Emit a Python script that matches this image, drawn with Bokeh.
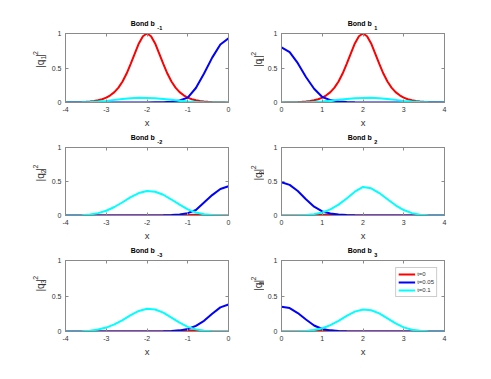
import math
from bokeh.plotting import figure
from bokeh.layouts import column, row
from bokeh.models import Range1d, FixedTicker, LinearAxis
from bokeh.core.properties import value
from bokeh.embed import file_html
from bokeh.resources import INLINE

# ---------------- data ----------------
X_NEG = [-4.0, -3.8, -3.6, -3.4, -3.2, -3.0, -2.8, -2.6, -2.4, -2.2, -2.0,
         -1.8, -1.6, -1.4, -1.2, -1.0, -0.8, -0.6, -0.4, -0.2, 0.0]
X_POS = [0.0, 0.2, 0.4, 0.6, 0.8, 1.0, 1.2, 1.4, 1.6, 1.8, 2.0,
         2.2, 2.4, 2.6, 2.8, 3.0, 3.2, 3.4, 3.6, 3.8, 4.0]
# finer grid for the sharp red peaks of the top row
XF_NEG = [-4.0, -3.9, -3.8, -3.7, -3.6, -3.5, -3.4, -3.3, -3.2, -3.1, -3.0,
          -2.9, -2.8, -2.7, -2.6, -2.5, -2.4, -2.3, -2.2, -2.1, -2.0,
          -1.9, -1.8, -1.7, -1.6, -1.5, -1.4, -1.3, -1.2, -1.1, -1.0,
          -0.9, -0.8, -0.7, -0.6, -0.5, -0.4, -0.3, -0.2, -0.1, 0.0]
XF_POS = [0.0, 0.1, 0.2, 0.3, 0.4, 0.5, 0.6, 0.7, 0.8, 0.9, 1.0,
          1.1, 1.2, 1.3, 1.4, 1.5, 1.6, 1.7, 1.8, 1.9, 2.0,
          2.1, 2.2, 2.3, 2.4, 2.5, 2.6, 2.7, 2.8, 2.9, 3.0,
          3.1, 3.2, 3.3, 3.4, 3.5, 3.6, 3.7, 3.8, 3.9, 4.0]

SERIES_LABELS = ["t=0", "t=0.05", "t=0.1"]
COLORS = ["#ff0000", "#0000ff", "#00ffff"]

# bond b_-1
red_m1 = [0.001, 0.002, 0.003, 0.0045, 0.0066, 0.01, 0.015, 0.022, 0.033, 0.048, 0.07,
          0.104, 0.15, 0.216, 0.305, 0.42, 0.56, 0.71, 0.856, 0.96, 1.00,
          0.96, 0.856, 0.71, 0.56, 0.42, 0.305, 0.216, 0.15, 0.104, 0.07,
          0.048, 0.033, 0.022, 0.015, 0.01, 0.0066, 0.0045, 0.003, 0.002, 0.001]
blue_m1 = [0, 0, 0, 0, 0, 0, 0, 0, 0, 0, 0,
           0.002, 0.004, 0.01, 0.03, 0.07, 0.21, 0.42, 0.65, 0.84, 0.93]
cyan_m1 = [0, 0.001, 0.003, 0.007, 0.014, 0.022, 0.038, 0.052, 0.062, 0.068, 0.067,
           0.062, 0.052, 0.04, 0.027, 0.014, 0.007, 0.003, 0.001, 0.0, 0]
# bond b_1
red_p1 = [0.001, 0.002, 0.003, 0.0045, 0.0066, 0.01, 0.015, 0.022, 0.033, 0.048, 0.07,
          0.104, 0.15, 0.216, 0.305, 0.42, 0.56, 0.71, 0.856, 0.96, 1.00,
          0.96, 0.856, 0.71, 0.56, 0.42, 0.305, 0.216, 0.15, 0.104, 0.07,
          0.048, 0.033, 0.022, 0.015, 0.01, 0.0066, 0.0045, 0.003, 0.002, 0.001]
blue_p1 = [0.80, 0.73, 0.57, 0.37, 0.20, 0.08, 0.035, 0.015, 0.007, 0.003, 0.001,
           0, 0, 0, 0, 0, 0, 0, 0, 0, 0]
cyan_p1 = [0, 0.0, 0.001, 0.003, 0.007, 0.014, 0.027, 0.04, 0.052, 0.062, 0.067,
           0.068, 0.062, 0.052, 0.038, 0.022, 0.014, 0.007, 0.003, 0.001, 0]
# bond b_-2
red_m2 = [0, 0, 0, 0, 0, 0, 0, 0, 0, 0, 0,
          0, 0, 0.001, 0.003, 0.007, 0.01, 0.008, 0.004, 0.001, 0]
blue_m2 = [0, 0, 0, 0, 0, 0, 0, 0, 0, 0, 0,
           0.001, 0.003, 0.007, 0.015, 0.035, 0.08, 0.19, 0.30, 0.39, 0.43]
cyan_m2 = [0, 0.001, 0.004, 0.014, 0.035, 0.07, 0.125, 0.195, 0.27, 0.33, 0.36,
           0.35, 0.305, 0.235, 0.16, 0.09, 0.045, 0.018, 0.006, 0.002, 0]
# bond b_2
red_p2 = [0, 0, 0, 0.002, 0.006, 0.01, 0.008, 0.004, 0.001, 0, 0,
          0, 0, 0, 0, 0, 0, 0, 0, 0, 0]
blue_p2 = [0.49, 0.45, 0.36, 0.24, 0.13, 0.06, 0.03, 0.014, 0.007, 0.003, 0.001,
           0, 0, 0, 0, 0, 0, 0, 0, 0, 0]
cyan_p2 = [0, 0.001, 0.003, 0.008, 0.02, 0.045, 0.09, 0.16, 0.25, 0.35, 0.42,
           0.40, 0.33, 0.24, 0.15, 0.08, 0.035, 0.012, 0.004, 0.001, 0]
# bond b_-3
red_m3 = [0, 0, 0, 0, 0, 0, 0, 0, 0, 0, 0,
          0, 0, 0.002, 0.006, 0.015, 0.013, 0.006, 0.002, 0, 0]
blue_m3 = [0, 0, 0, 0, 0, 0, 0, 0, 0, 0, 0,
           0.001, 0.003, 0.007, 0.016, 0.035, 0.08, 0.15, 0.25, 0.34, 0.38]
cyan_m3 = [0, 0.001, 0.003, 0.01, 0.028, 0.055, 0.10, 0.16, 0.23, 0.29, 0.32,
           0.31, 0.265, 0.195, 0.125, 0.065, 0.03, 0.011, 0.004, 0.001, 0]
# bond b_3
red_p3 = [0, 0, 0, 0.003, 0.01, 0.015, 0.009, 0.003, 0.001, 0, 0,
          0, 0, 0, 0, 0, 0, 0, 0, 0, 0]
blue_p3 = [0.35, 0.33, 0.26, 0.17, 0.085, 0.035, 0.016, 0.007, 0.003, 0.001, 0,
           0, 0, 0, 0, 0, 0, 0, 0, 0, 0]
cyan_p3 = [0, 0.001, 0.003, 0.008, 0.02, 0.045, 0.09, 0.15, 0.22, 0.28, 0.31,
           0.30, 0.255, 0.185, 0.115, 0.058, 0.025, 0.009, 0.003, 0.001, 0]

# bond indices -> titles "Bond b_{k}" and y labels "|q_{k}|^2"
BOND_IDX = [["-1", "1"], ["-2", "2"], ["-3", "3"]]
XTICKS_NEG = [-4, -3, -2, -1, 0]
XTICKS_POS = [0, 1, 2, 3, 4]
YTICKS = [0, 0.5, 1]

DATA = [[(red_m1, blue_m1, cyan_m1), (red_p1, blue_p1, cyan_p1)],
        [(red_m2, blue_m2, cyan_m2), (red_p2, blue_p2, cyan_p2)],
        [(red_m3, blue_m3, cyan_m3), (red_p3, blue_p3, cyan_p3)]]

FONT = "Liberation Sans"
AX = "#8a8a8a"
TXT = "#333333"

# ---------------- layout geometry (pixels) ----------------
FRAME_W = 164
FRAME_H = [71, 70, 71]
TITLE_H = [30, 14, 14]
PLOT_TOP = 3
PLOT_BOT = [26, 26, 40]
YLAB_W = [48, 30]
PLOT_LB = 16
PLOT_RB = [6, 25]


def style_axis(ax, ticks, show_labels=True):
    ax.ticker = FixedTicker(ticks=ticks)
    ax.major_label_overrides = {t: ("%g" % t) for t in ticks}
    ax.axis_line_color = AX
    ax.major_tick_line_color = AX
    ax.major_tick_in = 3
    ax.major_tick_out = 0
    ax.minor_tick_line_color = None
    ax.major_label_text_font = FONT
    ax.major_label_text_color = TXT
    if show_labels:
        ax.major_label_text_font_size = "7px"
        ax.major_label_standoff = 4
    else:
        ax.major_label_text_font_size = "0px"
        ax.major_label_standoff = 0
        ax.major_label_text_alpha = 0
    ax.axis_label_text_font = FONT
    ax.axis_label_text_font_size = "9.5px"
    ax.axis_label_text_font_style = "normal"
    ax.axis_label_text_color = TXT


def text_width(s, size, bold=False):
    w = {"B": 0.722, "o": 0.611 if bold else 0.556, "n": 0.611 if bold else 0.556,
         "d": 0.611 if bold else 0.556, " ": 0.278, "b": 0.611 if bold else 0.556,
         "-": 0.333, "|": 0.28 if bold else 0.26, "q": 0.611 if bold else 0.556}
    return sum(w.get(ch, 0.556) for ch in s) * size


def text_fig(w, h):
    f = figure(width=w, height=h, output_backend="svg", toolbar_location=None,
               x_range=Range1d(0, w), y_range=Range1d(0, h),
               x_axis_type=None, y_axis_type=None, min_border=0)
    f.outline_line_color = None
    f.grid.visible = False
    f.background_fill_color = "white"
    f.border_fill_color = "white"
    return f


layout_rows = []
for r in range(3):
    title_figs = []
    plot_cells = []
    for c in range(2):
        left = (c == 0)
        k = BOND_IDX[r][c]
        x = X_NEG if left else X_POS
        xf = XF_NEG if left else XF_POS
        xt = XTICKS_NEG if left else XTICKS_POS
        lb, rb = PLOT_LB, PLOT_RB[c]
        pw = lb + FRAME_W + rb
        ph = PLOT_TOP + FRAME_H[r] + PLOT_BOT[r]
        cell_w = YLAB_W[c] + pw

        # ---- title "Bond b_k" ----
        tf = text_fig(cell_w, TITLE_H[r])
        xc = YLAB_W[c] + lb + FRAME_W / 2.0
        tmain, tsub, gap = 7, 5.5, 2.5
        wm = text_width("Bond b", tmain, True)
        ws = text_width(k, tsub, True)
        tot = wm + gap + ws
        tf.text(x=[xc - tot / 2.0], y=[7.0], text=["Bond b"],
                text_font=value(FONT), text_font_size=value("%gpx" % tmain),
                text_font_style="bold", text_color="#000000",
                text_align="left", text_baseline="alphabetic")
        tf.text(x=[xc - tot / 2.0 + wm + gap], y=[3.0], text=[k],
                text_font=value(FONT), text_font_size=value("%gpx" % tsub),
                text_font_style="bold", text_color="#000000",
                text_align="left", text_baseline="alphabetic")
        title_figs.append(tf)

        # ---- y label "|q_k|^2" (rotated) ----
        yf = text_fig(YLAB_W[c], ph)
        ymid = PLOT_BOT[r] + FRAME_H[r] / 2.0
        ym, ys_ = 10, 7
        base = 40 if left else 24
        pieces = [("|q", ym, 0), (k, ys_, 3), ("|", ym, 0), ("2", ys_, -5)]
        gaps = [0.5, 0.8, 0.6, 0]
        widths = [text_width(s, f) for s, f, _ in pieces]
        total = sum(widths) + sum(gaps)
        pos = ymid - total / 2.0
        for (s, f, sh), wdt, g in zip(pieces, widths, gaps):
            yf.text(x=[base + sh], y=[pos], text=[s], angle=math.pi / 2,
                    text_font=value(FONT), text_font_size=value("%gpx" % f),
                    text_color=TXT, text_align="left", text_baseline="alphabetic")
            pos += wdt + g

        # ---- the plot itself ----
        p = figure(width=pw, height=ph, output_backend="svg", toolbar_location=None,
                   x_range=Range1d(xt[0], xt[-1]), y_range=Range1d(0, 1),
                   min_border_left=lb, min_border_right=rb,
                   min_border_top=PLOT_TOP, min_border_bottom=PLOT_BOT[r])
        p.grid.visible = False
        p.outline_line_color = AX
        p.background_fill_color = "white"
        p.border_fill_color = "white"
        style_axis(p.xaxis[0], xt)
        style_axis(p.yaxis[0], YTICKS)
        p.xaxis.axis_label = "x"
        p.xaxis.axis_label_standoff = 2
        top_ax = LinearAxis()
        style_axis(top_ax, xt, show_labels=False)
        p.add_layout(top_ax, "above")
        right_ax = LinearAxis()
        style_axis(right_ax, YTICKS, show_labels=False)
        p.add_layout(right_ax, "right")

        reds, blues, cyans = DATA[r][c]
        is_legend = (r == 2 and c == 1)
        series = [(xf if r == 0 else x, reds), (x, blues), (x, cyans)]
        for (xs, ys), col, lab in zip(series, COLORS, SERIES_LABELS):
            if is_legend:
                p.line(xs, ys, line_color=col, line_width=2, legend_label=lab)
            else:
                p.line(xs, ys, line_color=col, line_width=2)
        if is_legend:
            lg = p.legend[0]
            lg.location = "top_right"
            lg.margin = 7
            lg.padding = 2
            lg.spacing = 0
            lg.glyph_width = 17
            lg.glyph_height = 8
            lg.label_height = 8
            lg.label_width = 10
            lg.label_standoff = 2
            lg.label_text_font = FONT
            lg.label_text_font_size = "6px"
            lg.label_text_color = TXT
            lg.border_line_color = "#9a9a9a"
            lg.border_line_width = 1
            lg.background_fill_color = "white"
            lg.background_fill_alpha = 1
        plot_cells.extend([yf, p])
    layout_rows.append(row(*title_figs))
    layout_rows.append(row(*plot_cells))

layout = column(*layout_rows)
open("out.html", "w").write(file_html(layout, INLINE))
